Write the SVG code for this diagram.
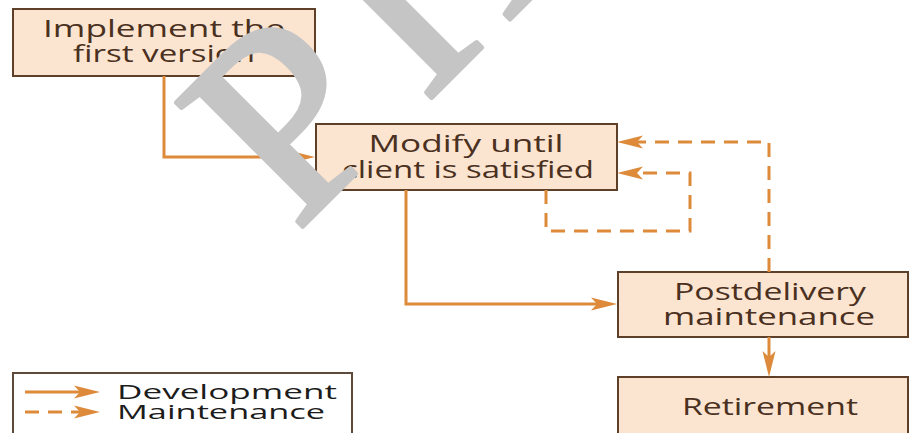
<svg xmlns="http://www.w3.org/2000/svg" width="911" height="433" viewBox="0 0 911 433">
  <style>
    .box { fill: #fbe4d0; stroke: #5e4028; stroke-width: 2; }
    .lbl { font-family: "Open Sans", "Liberation Sans", sans-serif; font-size: 23px; fill: #4a3020; text-anchor: middle; }
    .leg { font-family: "Open Sans", "Liberation Sans", sans-serif; font-size: 20.5px; fill: #1c1c1c; }
    .dev { fill: none; stroke: #dd8a3a; stroke-width: 3; marker-end: url(#head); }
    .mnt { fill: none; stroke: #dd8a3a; stroke-width: 3; stroke-dasharray: 14 9; marker-end: url(#head); }
    .mark { font-family: "Liberation Serif", "Times New Roman", serif; font-size: 270px; fill: #c5c5c5; stroke: #c5c5c5; stroke-width: 5; stroke-linejoin: round; }
  </style>
  <defs>
    <!-- swept-back arrowhead; the line stops 12px short of the tip -->
    <marker id="head" viewBox="-15 -7 28 14" refX="0" refY="0" markerWidth="28" markerHeight="14" markerUnits="userSpaceOnUse" orient="auto">
      <path d="M12,0 L-14,-6.5 L-8,0 L-14,6.5 Z" fill="#dd8a3a"/>
    </marker>
  </defs>

  <!-- nodes -->
  <g id="implement">
    <rect class="box" x="13" y="9" width="302" height="67"/>
    <text class="lbl" x="164" y="36.5" textLength="242" lengthAdjust="spacingAndGlyphs">Implement the</text>
    <text class="lbl" x="164" y="62" textLength="182" lengthAdjust="spacingAndGlyphs">first version</text>
  </g>
  <g id="modify">
    <rect class="box" x="316" y="124" width="301" height="66"/>
    <text class="lbl" x="466" y="152" textLength="195" lengthAdjust="spacingAndGlyphs">Modify until</text>
    <text class="lbl" x="468" y="178" textLength="252" lengthAdjust="spacingAndGlyphs">client is satisfied</text>
  </g>
  <g id="postdelivery">
    <rect class="box" x="618" y="272" width="290" height="65"/>
    <text class="lbl" x="770" y="299.5" textLength="192" lengthAdjust="spacingAndGlyphs">Postdelivery</text>
    <text class="lbl" x="769" y="325" textLength="212" lengthAdjust="spacingAndGlyphs">maintenance</text>
  </g>
  <g id="retirement">
    <rect class="box" x="618" y="377" width="290" height="70"/>
    <text class="lbl" x="770" y="415" textLength="176" lengthAdjust="spacingAndGlyphs">Retirement</text>
  </g>

  <!-- connectors -->
  <g id="connectors">
    <path class="dev" d="M164,76 V157 H303"/>
    <path class="dev" d="M406,190 V304 H605"/>
    <path class="dev" d="M769,337 V365"/>
    <path class="mnt" d="M769,272 V142 H629"/>
    <path class="mnt" d="M546,190 V231 H690 V173 H629"/>
  </g>

  <!-- legend -->
  <g id="legend">
    <rect x="13" y="373" width="339" height="80" fill="#ffffff" stroke="#5e4a3a" stroke-width="2"/>
    <path class="dev" d="M25,392 H88"/>
    <path class="mnt" d="M25,412 H88" stroke-dasharray="15 8"/>
    <text class="leg" x="117" y="399" textLength="220" lengthAdjust="spacingAndGlyphs">Development</text>
    <text class="leg" x="117" y="419" textLength="208" lengthAdjust="spacingAndGlyphs">Maintenance</text>
  </g>

  <!-- diagonal watermark lettering laid over the drawing -->
  <g id="watermark" transform="translate(296,233) rotate(-45)">
    <text class="mark" x="0" y="0">P</text>
    <text class="mark" x="182" y="0">I</text>
    <text class="mark" x="300" y="0">A</text>
  </g>
</svg>
